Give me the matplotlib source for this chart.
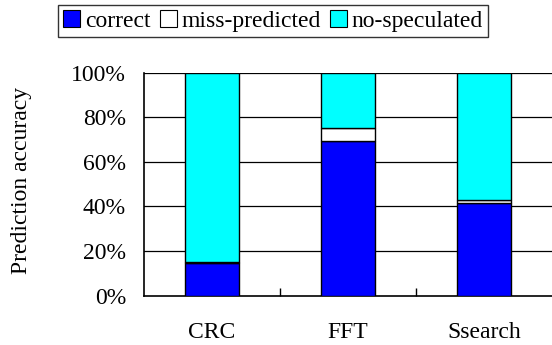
import matplotlib
matplotlib.use("Agg")
import matplotlib.pyplot as plt
import numpy as np
from matplotlib.patches import Patch
from matplotlib.ticker import FuncFormatter

categories = ["CRC", "FFT", "Ssearch"]
correct = [14.5, 69.5, 41.4]
miss_predicted = [0.5, 5.8, 1.3]
no_speculated = [100 - c - m for c, m in zip(correct, miss_predicted)]
series_names = ["correct", "miss-predicted", "no-speculated"]
colors = ["#0000FF", "#FFFFFF", "#00FFFF"]

plt.rcParams['font.family'] = ['Liberation Serif', 'DejaVu Serif']
FS = 17

fig = plt.figure(figsize=(5.52, 3.45), dpi=100)
ax = fig.add_axes([144/552, 1 - 295.5/345, 408/552, 222.8/345])

x = np.arange(len(categories))
bottom = np.zeros(len(categories))
for vals, col in zip([correct, miss_predicted, no_speculated], colors):
    ax.bar(x, vals, width=0.4, bottom=bottom, color=col, edgecolor='black',
           linewidth=1.0, zorder=3)
    bottom += np.array(vals)

ax.set_xlim(-0.5, len(categories) - 0.5)
ax.set_ylim(0, 100)
ax.set_yticks([0, 20, 40, 60, 80, 100])
ax.yaxis.set_major_formatter(FuncFormatter(lambda v, p: f"{int(v)}%"))
for yv in [20, 40, 60, 80, 100]:
    ax.axhline(yv, color='black', linewidth=0.9, zorder=1)

ax.set_xticks(x)
ax.set_xticklabels(categories)
ax.set_xticks([0.5, 1.5], minor=True)
ax.tick_params(axis='x', which='major', length=0, pad=19, labelsize=FS)
ax.tick_params(axis='x', which='minor', direction='in', length=6, width=1, color='black')
ax.tick_params(axis='y', length=0, pad=13, labelsize=FS)

for s in ['top', 'right']:
    ax.spines[s].set_visible(False)
ax.spines['left'].set_linewidth(1.2)
ax.spines['bottom'].set_linewidth(1.2)

fig.text(22/552, 1 - 180/345, "Prediction accuracy", rotation=90, ha='center', va='center', fontsize=FS)

handles = [Patch(facecolor=c, edgecolor='black', linewidth=0.8) for c in colors]
leg = fig.legend(handles, series_names, loc='center', bbox_to_anchor=(273/552, 1 - 21/345),
                 ncol=3, frameon=True, fontsize=FS, handlelength=0.72, handleheight=0.72,
                 handletextpad=0.2, columnspacing=0.4, borderpad=0.2, fancybox=False,
                 borderaxespad=0)
leg.get_frame().set_edgecolor('black')
leg.get_frame().set_linewidth(1.0)

fig.savefig("out.png", dpi=100)
